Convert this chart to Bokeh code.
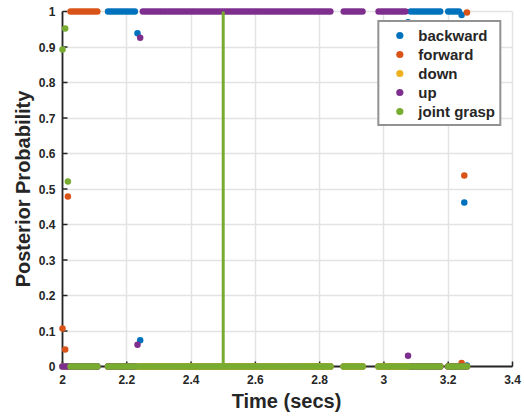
import numpy as np
from bokeh.plotting import figure
from bokeh.models import (Range1d, FixedTicker, Legend, LegendItem,
                          CustomJSTickFormatter, ColumnDataSource)
from bokeh.embed import file_html
from bokeh.resources import INLINE

# ---------------- data ----------------
SAMPLE_RATE = 120.0          # samples per second
T_START = 2.0                # time of sample index 0
# sample index ranges that are present (gaps = missing samples)
PRESENT = [(0, 13), (17, 100), (105, 112), (118, 141), (144, 151)]

CLASSES = ["backward", "forward", "down", "up", "joint grasp"]
COLORS = ["#0072BD", "#D95319", "#EDB120", "#7E2F8E", "#77AC30"]

# runs of samples where one class has posterior 1 (all others 0)
RUNS = [(3, 13, "forward"), (17, 27, "backward"),
        (30, 128, "up"), (130, 148, "backward")]
# samples with split posteriors
TRANSITIONS = {
    0: {"joint grasp": 0.893, "forward": 0.107},
    1: {"joint grasp": 0.952, "forward": 0.048},
    2: {"joint grasp": 0.521, "forward": 0.479},
    28: {"backward": 0.939, "up": 0.061},
    29: {"up": 0.926, "backward": 0.074},
    129: {"backward": 0.970, "up": 0.030},
    149: {"backward": 0.990, "forward": 0.010},
    150: {"forward": 0.538, "backward": 0.462},
    151: {"forward": 0.997, "backward": 0.003},
}
EVENT_TIME = 2.5

X_TICKS = [2.0, 2.2, 2.4, 2.6, 2.8, 3.0, 3.2, 3.4]
X_LABELS = ["2", "2.2", "2.4", "2.6", "2.8", "3", "3.2", "3.4"]
Y_TICKS = [0.0, 0.1, 0.2, 0.3, 0.4, 0.5, 0.6, 0.7, 0.8, 0.9, 1.0]
Y_LABELS = ["0", "0.1", "0.2", "0.3", "0.4", "0.5", "0.6", "0.7", "0.8", "0.9", "1"]

# ---------------- build series ----------------
idx = np.concatenate([np.arange(a, b + 1) for a, b in PRESENT])
time = T_START + idx / SAMPLE_RATE
probs = {c: np.zeros(len(idx)) for c in CLASSES}
for a, b, c in RUNS:
    probs[c][(idx >= a) & (idx <= b)] = 1.0
for k, d in TRANSITIONS.items():
    pos = np.where(idx == k)[0]
    if len(pos):
        for c in CLASSES:
            probs[c][pos[0]] = d.get(c, 0.0)

# ---------------- layout ----------------
X0, X1 = X_TICKS[0], X_TICKS[-1]
Y0, Y1 = Y_TICKS[0], Y_TICKS[-1]
FW, FH = 456, 363            # frame size px
PL, PR, PT, PB = 4, 2, 4, 4  # padding px inside frame
sx = (X1 - X0) / (FW - PL - PR)
sy = (Y1 - Y0) / (FH - PT - PB)
TICK_LEN = 5                 # px, inward ticks

p = figure(width=524, height=416, output_backend="svg", toolbar_location=None,
           x_range=Range1d(X0 - PL * sx, X1 + PR * sx),
           y_range=Range1d(Y0 - PB * sy, Y1 + PT * sy),
           min_border_left=58, min_border_right=10,
           min_border_top=7, min_border_bottom=46)
p.outline_line_color = None
p.background_fill_color = "white"
p.border_fill_color = "white"

DARK = "#262626"
FONT = "Liberation Sans"

def fmt(ticks, labels):
    return CustomJSTickFormatter(args=dict(tvals=ticks, tlabels=labels), code="""
        let best = 0;
        for (let i = 0; i < tvals.length; i++) {
            if (Math.abs(tvals[i] - tick) < Math.abs(tvals[best] - tick)) best = i;
        }
        return tlabels[best];
    """)

for ax, ticks, labels in [(p.xaxis[0], X_TICKS, X_LABELS),
                          (p.yaxis[0], Y_TICKS, Y_LABELS)]:
    ax.ticker = FixedTicker(ticks=ticks)
    ax.formatter = fmt(ticks, labels)
    ax.axis_line_color = None
    ax.major_tick_in = 0
    ax.major_tick_out = 0
    ax.major_tick_line_color = None
    ax.minor_tick_line_color = None
    ax.major_label_text_font = FONT
    ax.major_label_text_font_style = "bold"
    ax.major_label_text_font_size = "12px"
    ax.major_label_text_color = DARK
    ax.axis_label_text_font = FONT
    ax.axis_label_text_font_style = "bold"
    ax.axis_label_text_font_size = "20px"
    ax.axis_label_text_color = DARK

p.xaxis.axis_label = "Time (secs)"
p.yaxis.axis_label = "Posterior Probability"
p.xaxis.major_label_standoff = 4
p.yaxis.major_label_standoff = 3
p.xaxis.axis_label_standoff = 3
p.yaxis.axis_label_standoff = 2

p.xgrid.ticker = FixedTicker(ticks=X_TICKS)
p.ygrid.ticker = FixedTicker(ticks=Y_TICKS)
for g, cb in [(p.xgrid[0], (Y0, Y1)), (p.ygrid[0], (X0, X1))]:
    g.grid_line_color = "#e3e3e3"
    g.grid_line_width = 1.5
    try:
        g.cross_bounds = cb
    except Exception:
        pass

# axis spines and inward ticks (at x = X0 and y = Y0), under the dots
p.segment(x0=[X0, X0], y0=[Y0, Y0], x1=[X0, X1], y1=[Y1, Y0],
          line_color=DARK, line_width=1.8)
p.segment(x0=[X0] * len(Y_TICKS), y0=Y_TICKS,
          x1=[X0 + TICK_LEN * sx] * len(Y_TICKS), y1=Y_TICKS,
          line_color=DARK, line_width=1.5)
p.segment(x0=X_TICKS, y0=[Y0] * len(X_TICKS),
          x1=X_TICKS, y1=[Y0 + TICK_LEN * sy] * len(X_TICKS),
          line_color=DARK, line_width=1.5)

items = []
for c, col in zip(CLASSES, COLORS):
    src = ColumnDataSource(dict(t=time, v=probs[c]))
    r = p.scatter("t", "v", source=src, size=6.5, color=col, line_width=0)
    items.append(LegendItem(label=c, renderers=[r]))

p.segment(x0=[EVENT_TIME], y0=[Y0], x1=[EVENT_TIME], y1=[Y1],
          line_color=COLORS[4], line_width=3)

legend = Legend(items=items, location="top_right")
legend.margin = 13
legend.padding = 4
legend.spacing = 1
legend.glyph_width = 32
legend.glyph_height = 18
legend.label_height = 18
legend.label_standoff = 3
legend.label_text_font = FONT
legend.label_text_font_style = "bold"
legend.label_text_font_size = "15px"
legend.label_text_color = DARK
legend.border_line_color = DARK
legend.border_line_width = 2
legend.background_fill_color = "white"
legend.background_fill_alpha = 1.0
p.add_layout(legend)

open("out.html", "w").write(file_html(p, INLINE))
